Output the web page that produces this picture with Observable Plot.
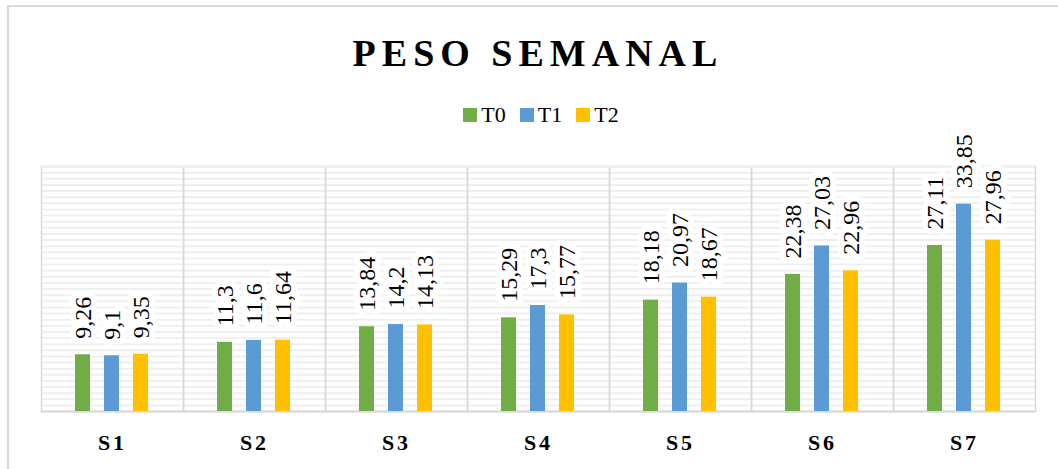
<!DOCTYPE html>
<html>
<head>
<meta charset="utf-8">
<script src="https://cdn.jsdelivr.net/npm/d3@7"></script>
<script src="https://cdn.jsdelivr.net/npm/@observablehq/plot@0.6"></script>
<style>
  html, body { margin: 0; padding: 0; background: #fff; }
  #wrap { position: relative; width: 1058px; height: 469px; overflow: hidden; background: #fff; font-family: "Liberation Serif", "Times New Roman", serif; }
  #border { position: absolute; left: 7px; top: 5px; width: 1100px; height: 520px; border: 2px solid #d9d9d9; box-sizing: border-box; }
  #title { position: absolute; left: 0; top: 32px; width: 1076px; text-align: center; font-size: 38px; line-height: 42px; font-weight: bold; letter-spacing: 6px; color: #000; }
  #legend { position: absolute; left: 0; top: 103px; width: 1082px; display: flex; justify-content: center; align-items: center; font-size: 22px; line-height: 24px; color: #000; }
  #legend .item { display: flex; align-items: center; margin: 0 7px; }
  #legend .sw { width: 14px; height: 14px; margin-right: 4px; }
  #chart { position: absolute; left: 0; top: 130px; }
  #chart svg { overflow: visible; }
  #chart svg text { font-family: "Liberation Serif", "Times New Roman", serif; }
  #chart g[aria-label="fx-axis tick label"] text { letter-spacing: 3px; }
</style>
</head>
<body>
<div id="wrap">
  <div id="border"></div>
  <div id="title"></div>
  <div id="legend"></div>
  <div id="chart"></div>
</div>
<script>
const titleText = "PESO SEMANAL";
const weeks = ["S1", "S2", "S3", "S4", "S5", "S6", "S7"];
const series = ["T0", "T1", "T2"];
const colors = ["#70AD47", "#5B9BD5", "#FFC000"];
const t0 = [9.26, 11.3, 13.84, 15.29, 18.18, 22.38, 27.11];
const t1 = [9.1, 11.6, 14.2, 17.3, 20.97, 27.03, 33.85];
const t2 = [9.35, 11.64, 14.13, 15.77, 18.67, 22.96, 27.96];
const gridTicks = d3.range(0, 41);

const valuesBySeries = [t0, t1, t2];
const data = weeks.flatMap((w, i) => series.map((s, j) => ({week: w, series: s, value: valuesBySeries[j][i]})));
const fmt = v => String(v).replace(".", ",");
const serif = "Liberation Serif";

document.getElementById("title").textContent = titleText;
const legend = document.getElementById("legend");
series.forEach((s, j) => {
  const item = document.createElement("div");
  item.className = "item";
  const sw = document.createElement("span");
  sw.className = "sw";
  sw.style.background = colors[j];
  const lab = document.createElement("span");
  lab.textContent = s;
  item.appendChild(sw);
  item.appendChild(lab);
  legend.appendChild(item);
});

const chart = Plot.plot({
  width: 1058,
  height: 339,
  marginTop: 36,
  marginBottom: 58,
  marginLeft: 38,
  marginRight: 21,
  style: {fontFamily: serif, background: "transparent", color: "#000"},
  fx: {domain: weeks, padding: 0, label: null, axis: null},
  x: {domain: series, paddingInner: 0.475, paddingOuter: 1.156, axis: null},
  y: {domain: [0, 40], axis: null},
  color: {domain: series, range: colors},
  marks: [
    Plot.gridY(gridTicks, {stroke: "#efefef", strokeOpacity: 1, strokeWidth: 2}),
    Plot.frame({stroke: "#d9d9d9", strokeWidth: 1.5}),
    Plot.ruleY([40], {stroke: "#efefef", strokeWidth: 2}),
    Plot.ruleY([0], {stroke: "#d9d9d9", strokeWidth: 2}),
    Plot.barY(data, {fx: "week", x: "series", y: "value", fill: "series"}),
    Plot.text(data, {
      fx: "week", x: "series", y: "value",
      text: d => fmt(d.value),
      rotate: -90, textAnchor: "start", dy: -16,
      fontSize: 24, fontFamily: serif, fill: "#000",
      stroke: "white", strokeWidth: 12, paintOrder: "stroke"
    }),
    Plot.axisFx({anchor: "bottom", tickSize: 0, tickPadding: 23, fontSize: 22, fontFamily: serif, fontWeight: "bold", label: null})
  ]
});
document.getElementById("chart").appendChild(chart);
</script>
</body>
</html>
